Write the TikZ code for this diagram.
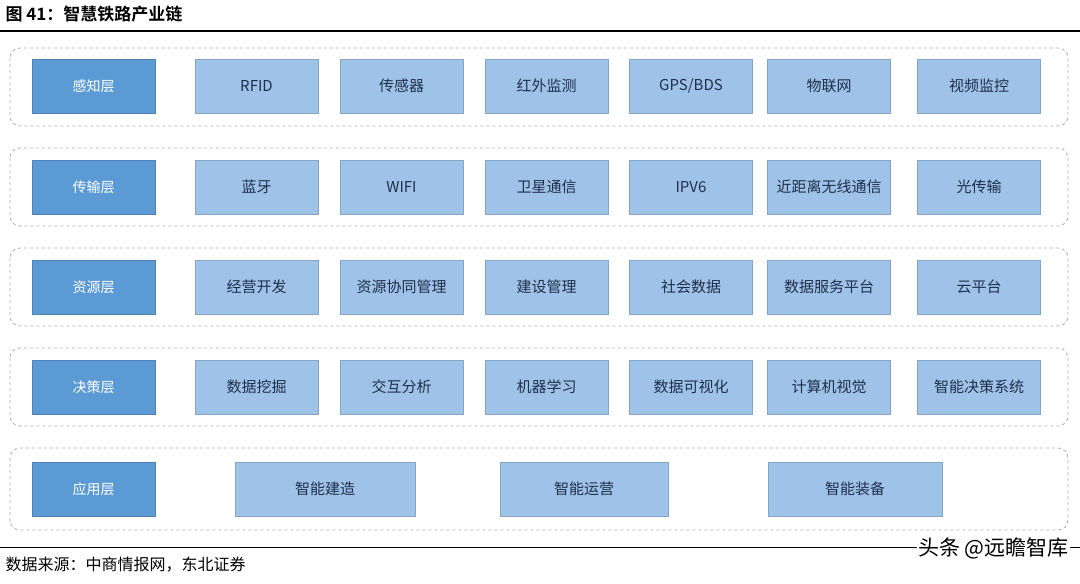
\documentclass[tikz,border=0pt]{standalone}
\usepackage{fontspec}
\setmainfont{Liberation Sans}
\newfontfamily\cjk{Noto Sans CJK SC}
\newfontfamily\cjkb{Noto Sans CJK SC Bold}
\begin{document}
\begin{tikzpicture}[x=1pt,y=-1pt,
  rowbox/.style={draw=gray!60,dashed,rounded corners=10pt,line width=0.9pt},
  layer/.style={fill=dkb,draw=dkb!85!black,text=white,font=\cjk\fontsize{14}{14}\selectfont,inner sep=0pt,minimum width=123pt,minimum height=54pt},
  item/.style={fill=ltb,draw=ltb!85!black,text=txb,font=\cjk\fontsize{15}{15}\selectfont,inner sep=0pt,minimum height=54pt},
  itm/.style={item,minimum width=123pt}]
\definecolor{dkb}{HTML}{5B9AD5}
\definecolor{ltb}{HTML}{9FC3E8}
\definecolor{txb}{HTML}{1F2F4A}
\useasboundingbox (0,0) rectangle (1080,584);
\fill[white] (0,0) rectangle (1080,584);
\node[anchor=west,font=\cjkb\fontsize{17}{17}\selectfont] (title) at (2,14) {图 41：智慧铁路产业链};
\draw[line width=1.2pt] (0,31) -- (1080,31);
\foreach \ya/\yb in {48/126,148/226,248/326,348/426,448/530}{
  \draw[rowbox] (10,\ya) rectangle (1068,\yb);
}
\newcommand\mkrow[9]{%
  \node[layer] (l#1) at (93.5,#2) {#3};
  \node[itm] (a#1) at (256.5,#2) {#4};
  \node[itm] (b#1) at (401.5,#2) {#5};
  \node[itm] (c#1) at (546.5,#2) {#6};
  \node[itm] (d#1) at (691,#2) {#7};
  \node[itm] (e#1) at (829,#2) {#8};
  \node[itm] (f#1) at (979,#2) {#9};
}
\mkrow{1}{86}{感知层}{RFID}{传感器}{红外监测}{GPS/BDS}{物联网}{视频监控}
\mkrow{2}{187}{传输层}{蓝牙}{WIFI}{卫星通信}{IPV6}{近距离无线通信}{光传输}
\mkrow{3}{287}{资源层}{经营开发}{资源协同管理}{建设管理}{社会数据}{数据服务平台}{云平台}
\mkrow{4}{387}{决策层}{数据挖掘}{交互分析}{机器学习}{数据可视化}{计算机视觉}{智能决策系统}
\node[layer] (l5) at (93.5,489) {应用层};
\node[item,minimum width=180pt] (a5) at (325,489) {智能建造};
\node[item,minimum width=168pt] (b5) at (584,489) {智能运营};
\node[item,minimum width=174pt] (c5) at (855,489) {智能装备};
\draw[line width=1pt] (0,547) -- (1080,547);
\node[anchor=west,font=\cjk\fontsize{16}{16}\selectfont] (src) at (2,565) {数据来源：中商情报网，东北证券};
\node[anchor=east,font=\cjk\fontsize{21}{21}\selectfont,fill=white,inner sep=1pt] (wm) at (1070,548) {头条 @远瞻智库};
\end{tikzpicture}
\end{document}
